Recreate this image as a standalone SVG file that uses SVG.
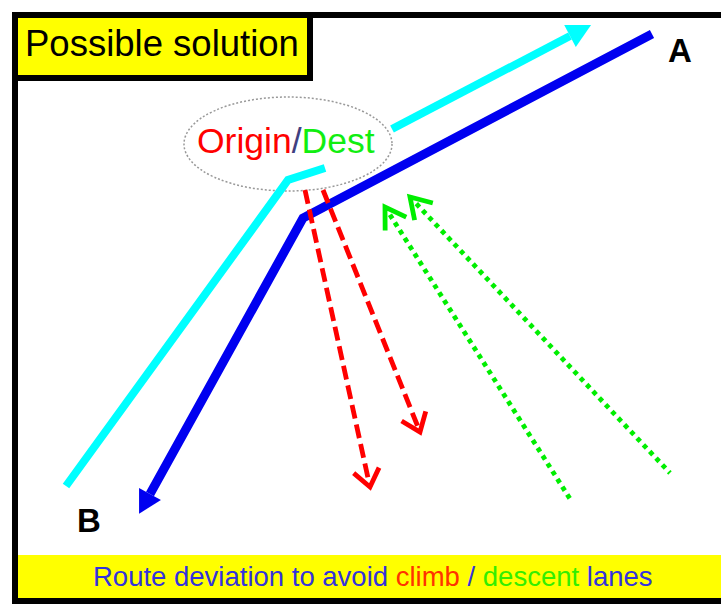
<svg xmlns="http://www.w3.org/2000/svg" width="721" height="611" viewBox="0 0 721 611">
  <style>
    .sans { font-family: "Liberation Sans", Arial, sans-serif; }
    .cyan { fill: none; stroke: #00ffff; stroke-width: 8; stroke-linecap: butt; }
    .blue { fill: none; stroke: #0000f0; stroke-width: 9; stroke-linejoin: miter; stroke-linecap: butt; }
    .climb { fill: none; stroke: #ff0000; stroke-width: 4.8; stroke-dasharray: 14 6; }
    .descent { fill: none; stroke: #00ee00; stroke-width: 4.8; stroke-dasharray: 4.6 4.6; }
  </style>
  <defs>
    <marker id="headCyan" markerUnits="userSpaceOnUse" markerWidth="30" markerHeight="30" viewBox="-2 -12 24 24" refX="0" refY="0" orient="auto" overflow="visible">
      <path d="M0,-10 L19,0 L0,10 Z" fill="#00ffff"/>
    </marker>
    <marker id="headBlue" markerUnits="userSpaceOnUse" markerWidth="30" markerHeight="30" viewBox="-2 -12 24 24" refX="0" refY="0" orient="auto" overflow="visible">
      <path d="M0,-10 L18,0 L0,10 Z" fill="#0000f0"/>
    </marker>
    <marker id="vRed" markerUnits="userSpaceOnUse" markerWidth="40" markerHeight="40" viewBox="-25 -20 30 40" refX="0" refY="0" orient="auto" overflow="visible">
      <path d="M-17,-13 L0,0 L-17,13" fill="none" stroke="#ff0000" stroke-width="4.8" stroke-linejoin="miter"/>
    </marker>
    <marker id="vGreen" markerUnits="userSpaceOnUse" markerWidth="40" markerHeight="40" viewBox="-25 -20 30 40" refX="0" refY="0" orient="auto-start-reverse" overflow="visible">
      <path d="M-20,-12.5 L0,0 L-20,12.5" fill="none" stroke="#00ee00" stroke-width="4.8" stroke-linejoin="miter"/>
    </marker>
  </defs>

  <rect x="0" y="0" width="721" height="611" fill="#ffffff"/>

  <!-- outer frame and caption bar -->
  <g id="frame">
    <rect x="15" y="15" width="720" height="586" fill="#ffffff" stroke="#000000" stroke-width="6"/>
  </g>
  <g id="caption">
    <rect x="18" y="555" width="703" height="43" fill="#ffff00"/>
    <text class="sans" x="93" y="586" font-size="27.5" fill="#3333dd"><tspan>Route deviation to avoid </tspan><tspan fill="#ff3300">climb</tspan><tspan> / </tspan><tspan fill="#33ee00">descent</tspan><tspan> lanes</tspan></text>
  </g>

  <!-- title box -->
  <g id="title">
    <rect x="15" y="15" width="295" height="63" fill="#ffff00" stroke="#000000" stroke-width="6"/>
    <text class="sans" x="25" y="56" font-size="36.5" fill="#000000">Possible solution</text>
  </g>

  <!-- origin / destination area -->
  <g id="origin-dest">
    <ellipse cx="288" cy="144" rx="104" ry="47" fill="none" stroke="#999999" stroke-width="1.5" stroke-dasharray="2 2"/>
    <text class="sans" x="197" y="153" font-size="35.5"><tspan fill="#ff0000">Origin</tspan><tspan fill="#404080">/</tspan><tspan fill="#11ee11">Dest</tspan></text>
  </g>

  <!-- end points -->
  <g id="point-a">
    <text class="sans" x="668" y="62" font-size="33" font-weight="bold" fill="#000000">A</text>
  </g>
  <g id="point-b">
    <text class="sans" x="77" y="532" font-size="33" font-weight="bold" fill="#000000">B</text>
  </g>

  <!-- routes and lanes -->
  <g id="connectors">
    <polyline class="cyan" points="66,486 288,180 325,168"/>
    <line class="cyan" x1="392" y1="129" x2="570" y2="36" marker-end="url(#headCyan)"/>
    <polyline class="blue" points="652,34 303,218 150,494" marker-end="url(#headBlue)"/>
    <line class="climb" x1="305" y1="190" x2="370" y2="487" marker-end="url(#vRed)"/>
    <line class="climb" x1="323" y1="190" x2="420" y2="432" marker-end="url(#vRed)"/>
    <line class="descent" x1="385" y1="207" x2="572" y2="502" marker-start="url(#vGreen)"/>
    <line class="descent" x1="410" y1="197" x2="670" y2="473" marker-start="url(#vGreen)"/>
  </g>
</svg>
